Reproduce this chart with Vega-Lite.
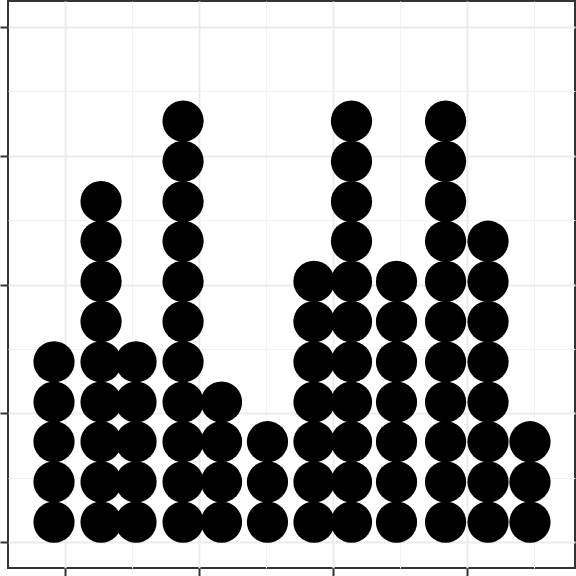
{
  "$schema": "https://vega.github.io/schema/vega-lite/v6.json",
  "width": 567,
  "height": 567,
  "autosize": {"type": "none"},
  "padding": {"left": 8, "top": 1, "right": 1, "bottom": 8},
  "background": "white",
  "config": {"view": {"stroke": "#333333", "strokeWidth": 2}},
  "data": {"values": [
    {"x":0.918,"y":0.039},{"x":0.918,"y":0.117},{"x":0.918,"y":0.195},{"x":0.918,"y":0.272},{"x":0.918,"y":0.350},
    {"x":1.269,"y":0.039},{"x":1.269,"y":0.117},{"x":1.269,"y":0.195},{"x":1.269,"y":0.272},{"x":1.269,"y":0.350},{"x":1.269,"y":0.428},{"x":1.269,"y":0.506},{"x":1.269,"y":0.584},{"x":1.269,"y":0.661},
    {"x":1.530,"y":0.039},{"x":1.530,"y":0.117},{"x":1.530,"y":0.195},{"x":1.530,"y":0.272},{"x":1.530,"y":0.350},
    {"x":1.881,"y":0.039},{"x":1.881,"y":0.117},{"x":1.881,"y":0.195},{"x":1.881,"y":0.272},{"x":1.881,"y":0.350},{"x":1.881,"y":0.428},{"x":1.881,"y":0.506},{"x":1.881,"y":0.584},{"x":1.881,"y":0.661},{"x":1.881,"y":0.739},{"x":1.881,"y":0.817},
    {"x":2.168,"y":0.039},{"x":2.168,"y":0.117},{"x":2.168,"y":0.195},{"x":2.168,"y":0.272},
    {"x":2.511,"y":0.039},{"x":2.511,"y":0.117},{"x":2.511,"y":0.195},
    {"x":2.858,"y":0.039},{"x":2.858,"y":0.117},{"x":2.858,"y":0.195},{"x":2.858,"y":0.272},{"x":2.858,"y":0.350},{"x":2.858,"y":0.428},{"x":2.858,"y":0.506},
    {"x":3.138,"y":0.039},{"x":3.138,"y":0.117},{"x":3.138,"y":0.195},{"x":3.138,"y":0.272},{"x":3.138,"y":0.350},{"x":3.138,"y":0.428},{"x":3.138,"y":0.506},{"x":3.138,"y":0.584},{"x":3.138,"y":0.661},{"x":3.138,"y":0.739},{"x":3.138,"y":0.817},
    {"x":3.474,"y":0.039},{"x":3.474,"y":0.117},{"x":3.474,"y":0.195},{"x":3.474,"y":0.272},{"x":3.474,"y":0.350},{"x":3.474,"y":0.428},{"x":3.474,"y":0.506},
    {"x":3.840,"y":0.039},{"x":3.840,"y":0.117},{"x":3.840,"y":0.195},{"x":3.840,"y":0.272},{"x":3.840,"y":0.350},{"x":3.840,"y":0.428},{"x":3.840,"y":0.506},{"x":3.840,"y":0.584},{"x":3.840,"y":0.661},{"x":3.840,"y":0.739},{"x":3.840,"y":0.817},
    {"x":4.157,"y":0.039},{"x":4.157,"y":0.117},{"x":4.157,"y":0.195},{"x":4.157,"y":0.272},{"x":4.157,"y":0.350},{"x":4.157,"y":0.428},{"x":4.157,"y":0.506},{"x":4.157,"y":0.584},
    {"x":4.470,"y":0.039},{"x":4.470,"y":0.117},{"x":4.470,"y":0.195}
  ]},
  "mark": {"type": "circle", "fill": "black", "strokeWidth": 0, "opacity": 1, "size": 1700},
  "encoding": {
    "x": {
      "field": "x", "type": "quantitative",
      "scale": {"domain": [0.5746, 4.806], "nice": false, "zero": false},
      "axis": {
        "title": null, "labels": false, "domain": false,
        "values": [1, 1.5, 2, 2.5, 3, 3.5, 4, 4.5],
        "tickColor": "#333333", "tickWidth": 2, "tickSize": 8,
        "tickOpacity": {"condition": {"test": "datum.value % 1 != 0", "value": 0}, "value": 1},
        "gridColor": {"condition": {"test": "datum.value % 1 != 0", "value": "#f2f2f2"}, "value": "#ebebeb"},
        "gridWidth": {"condition": {"test": "datum.value % 1 != 0", "value": 1}, "value": 2}
      }
    },
    "y": {
      "field": "y", "type": "quantitative",
      "scale": {"domain": [-0.05, 1.05], "nice": false, "zero": false},
      "axis": {
        "title": null, "labels": false, "domain": false,
        "values": [0, 0.125, 0.25, 0.375, 0.5, 0.625, 0.75, 0.875, 1],
        "tickColor": "#333333", "tickWidth": 2, "tickSize": 8,
        "tickOpacity": {"condition": {"test": "(datum.value * 8) % 2 == 1", "value": 0}, "value": 1},
        "gridColor": {"condition": {"test": "(datum.value * 8) % 2 == 1", "value": "#f2f2f2"}, "value": "#ebebeb"},
        "gridWidth": {"condition": {"test": "(datum.value * 8) % 2 == 1", "value": 1}, "value": 2}
      }
    }
  }
}
